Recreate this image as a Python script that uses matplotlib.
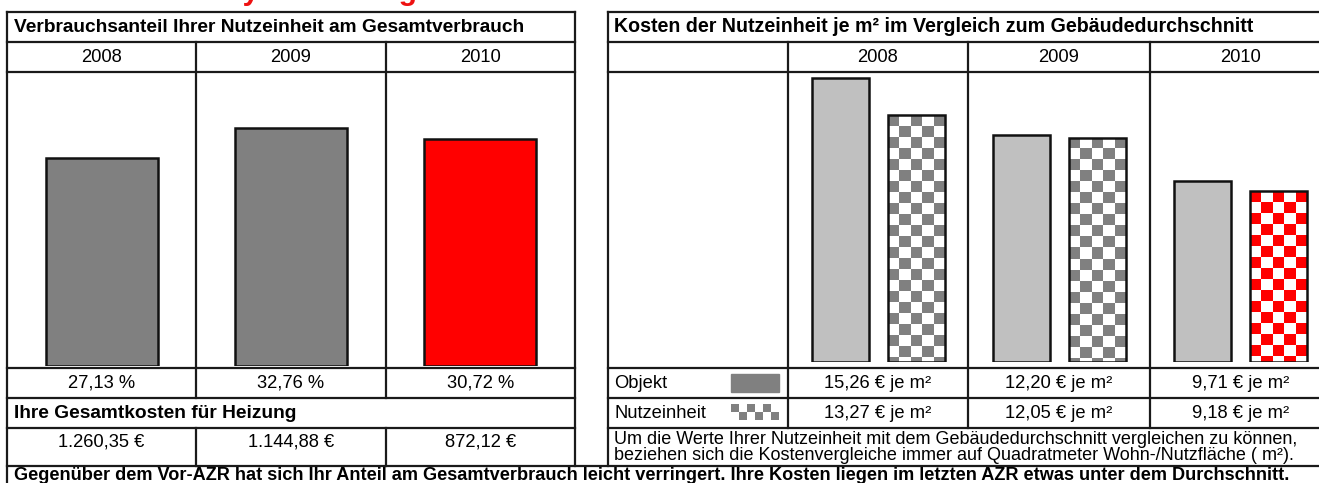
import numpy as np
import matplotlib
matplotlib.use('Agg')
import matplotlib.pyplot as plt
from matplotlib.colors import ListedColormap
from matplotlib.patches import Rectangle

plt.rcParams['font.family'] = ['Liberation Sans', 'DejaVu Sans']

# Daten
jahre = ['2008', '2009', '2010']
anteil = [27.13, 32.76, 30.72]
anteil_labels = ['27,13 %', '32,76 %', '30,72 %']
gesamtkosten_labels = ['1.260,35 €', '1.144,88 €', '872,12 €']
kosten_objekt = [15.26, 12.20, 9.71]
kosten_nutzeinheit = [13.27, 12.05, 9.18]
objekt_labels = ['15,26 € je m²', '12,20 € je m²', '9,71 € je m²']
nutzeinheit_labels = ['13,27 € je m²', '12,05 € je m²', '9,18 € je m²']
anteil_farben = ['#808080', '#808080', '#ff0000']
karo_farben = ['#808080', '#808080', '#ff0000']

B, H = 1319, 483
LINIE = '#1a1a1a'
FS = 13.2      # normale Schrift
FS_KOPF = 13.8  # Tabellenkopf
fig = plt.figure(figsize=(B / 100, H / 100), dpi=100)


# Achse in Pixelkoordinaten (y von oben)
def achse_px(x0, y0, x1, y1):
    return fig.add_axes([x0 / B, 1 - y1 / H, (x1 - x0) / B, (y1 - y0) / H])


def linie(x0, y0, x1, y1):
    rahmen.plot([x0, x1], [y0, y1], color=LINIE, linewidth=1.6,
                solid_capstyle='projecting')


def karo(ax, farbe, extent, zeilen, spalten, clip=None):
    feld = (np.add.outer(np.arange(zeilen), np.arange(spalten)) % 2 == 0).astype(float)
    img = ax.imshow(feld, cmap=ListedColormap(['white', farbe]), vmin=0, vmax=1,
                    extent=extent, interpolation='nearest', aspect='auto', zorder=2)
    if clip is not None:
        img.set_clip_path(clip)
    return img


rahmen = achse_px(0, 0, B, H)
rahmen.set_xlim(0, B)
rahmen.set_ylim(H, 0)
rahmen.axis('off')

# abgeschnittene Überschrift
rahmen.text(20, -0.3, 'Verbrauchsanalyse Heizung', color='#ee1111', fontsize=21.5,
            fontweight='bold', va='baseline', ha='left')

# ---------- linke Tabelle ----------
UNTEN = 466
lx0, lx1 = 7, 575
lspalten = [7, 196, 386, 575]
linie(lx0, 12, lx1, 12)
for y in [42, 72, 368, 398, 428]:
    linie(lx0, y, lx1, y)
linie(lx0, 12, lx0, 483)
linie(lx1, 12, lx1, UNTEN)
for x in lspalten[1:3]:
    linie(x, 42, x, 398)
    linie(x, 428, x, UNTEN)

rahmen.text(14, 27, 'Verbrauchsanteil Ihrer Nutzeinheit am Gesamtverbrauch',
            fontsize=FS_KOPF, fontweight='bold', va='center')
for i in range(3):
    mitte = (lspalten[i] + lspalten[i + 1]) / 2
    rahmen.text(mitte, 57, jahre[i], fontsize=FS, ha='center', va='center')
    rahmen.text(mitte, 383, anteil_labels[i], fontsize=FS, ha='center', va='center')
    rahmen.text(mitte, 442, gesamtkosten_labels[i], fontsize=FS, ha='center', va='center')
rahmen.text(14, 413, 'Ihre Gesamtkosten für Heizung', fontsize=FS_KOPF,
            fontweight='bold', va='center')

ax_l = achse_px(7, 72, 575, 366)
l_boden, l_ymax = -11.9, 43.3
ax_l.bar(range(3), np.array(anteil) - l_boden, bottom=l_boden, width=0.59,
         color=anteil_farben, edgecolor='#111111', linewidth=1.8)
ax_l.set_xlim(-0.5, 2.5)
ax_l.set_ylim(l_boden, l_ymax)
ax_l.axis('off')

# ---------- rechte Tabelle ----------
rx0, rx1 = 608, 1331
rspalten = [788, 968, 1150, 1331]
for y in [12, 42, 72, 368, 398, 428]:
    linie(rx0, y, rx1, y)
linie(rx0, 12, rx0, UNTEN)
for x in rspalten[:3]:
    linie(x, 42, x, 428)
linie(lx0, UNTEN, B + 5, UNTEN)

rahmen.text(614, 27, 'Kosten der Nutzeinheit je m² im Vergleich zum Gebäudedurchschnitt',
            fontsize=14.1, fontweight='bold', va='center')
for i in range(3):
    mitte = (rspalten[i] + rspalten[i + 1]) / 2
    rahmen.text(mitte, 57, jahre[i], fontsize=FS, ha='center', va='center')
    rahmen.text(mitte, 383, objekt_labels[i], fontsize=FS, ha='center', va='center')
    rahmen.text(mitte, 413, nutzeinheit_labels[i], fontsize=FS, ha='center', va='center')
rahmen.text(614, 383, 'Objekt', fontsize=FS, va='center')
rahmen.text(614, 413, 'Nutzeinheit', fontsize=FS, va='center')
rahmen.add_patch(Rectangle((731, 374), 48, 18, color='#808080'))
karo(rahmen, '#808080', (731, 779, 420, 404), 2, 6)
rahmen.set_xlim(0, B)
rahmen.set_ylim(H, 0)

rahmen.text(614, 439, 'Um die Werte Ihrer Nutzeinheit mit dem Gebäudedurchschnitt '
            'vergleichen zu können,', fontsize=13, va='center')
rahmen.text(614, 456, 'beziehen sich die Kostenvergleiche immer auf Quadratmeter '
            'Wohn-/Nutzfläche ( m²).', fontsize=13, va='center')

rahmen.text(14, 475.5, 'Gegenüber dem Vor-AZR hat sich Ihr Anteil am Gesamtverbrauch leicht '
            'verringert. Ihre Kosten liegen im letzten AZR etwas unter dem Durchschnitt.',
            fontsize=13.1, fontweight='bold', va='center')

r_oben, r_unten = 72, 362
r_ymax = 15.6
ax_r = achse_px(788, r_oben, 1331, r_unten)
x = np.arange(3)
ax_r.bar(x - 0.21, kosten_objekt, width=0.31, color='#c0c0c0', edgecolor='#111111',
         linewidth=1.8, zorder=3)
ne_balken = ax_r.bar(x + 0.21, kosten_nutzeinheit, width=0.31, facecolor='none',
                     edgecolor='#111111', linewidth=1.8, zorder=3)
zelle = 11 * r_ymax / (r_unten - r_oben)
for i, balken in enumerate(ne_balken):
    hoehe = kosten_nutzeinheit[i]
    n = int(np.ceil(hoehe / zelle))
    links = balken.get_x()
    karo(ax_r, karo_farben[i], (links, links + balken.get_width(), hoehe - n * zelle, hoehe),
         n, 5, clip=balken)
ax_r.set_xlim(-0.5, 2.5)
ax_r.set_ylim(0, r_ymax)
ax_r.axis('off')

fig.savefig('out.png', dpi=100)
